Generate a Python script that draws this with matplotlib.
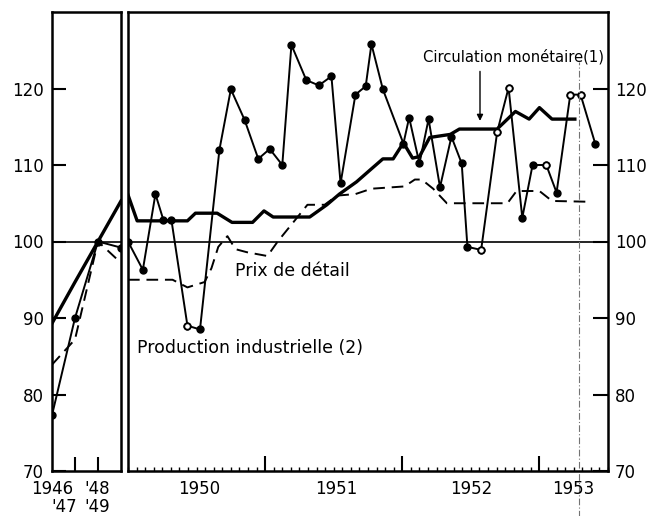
import numpy as np
import matplotlib.pyplot as plt
import matplotlib.ticker as ticker

# annual panel, 1946-1949 (1948 = 100)
years = [1946, 1947, 1948, 1949]
circ_years = [89.3, 94.7, 100.0, 105.3]
prix_years = [83.9, 87.2, 100.0, 97.2]
prod_years = [77.3, 90.0, 100.0, 99.2]

# monthly panel, x = months counted from january 1950
prod_m = [0.0, 1.3, 2.4, 3.1, 3.8, 5.2, 6.3, 8.0, 9.0, 10.2, 11.4, 12.4, 13.5, 14.3,
          15.6, 16.7, 17.8, 18.6, 19.9, 20.8, 21.3, 22.3, 24.1, 24.6, 25.5, 26.3,
          27.3, 28.3, 29.2, 29.7, 30.9, 32.3, 33.3, 34.5, 35.4, 36.6, 37.5, 38.7,
          39.6, 40.9]
prod_v = [100.0, 96.3, 106.2, 102.8, 102.8, 89.0, 88.5, 112.0, 119.9, 115.9, 110.8,
          112.1, 110.0, 125.7, 121.1, 120.4, 121.6, 107.6, 119.2, 120.3, 125.8, 119.9,
          112.8, 116.2, 110.2, 116.0, 107.1, 113.7, 110.2, 99.3, 98.9, 114.3, 120.1,
          103.1, 110.0, 110.0, 106.4, 119.2, 119.2, 112.7]
prod_open = [5, 30, 31, 32, 35, 37, 38]

circ_m = [0.0, 0.8, 5.2, 5.9, 7.8, 9.1, 10.9, 11.9, 12.7, 15.9, 17.4, 18.5, 20.0,
          21.3, 22.3, 23.2, 24.1, 24.9, 25.5, 26.4, 28.2, 29.0, 32.3, 33.9, 35.1,
          36.0, 37.1, 39.1]
circ_v = [106.1, 102.7, 102.7, 103.7, 103.7, 102.5, 102.5, 104.0, 103.2, 103.2, 104.8,
          106.2, 107.8, 109.5, 110.8, 110.8, 112.9, 110.9, 111.1, 113.6, 114.0, 114.7,
          114.7, 117.0, 116.0, 117.5, 116.0, 116.0]

prix_m = [0.0, 3.9, 5.2, 6.7, 7.3, 7.9, 8.7, 9.4, 10.4, 12.2, 13.1, 15.0, 15.7, 17.2,
          18.3, 19.9, 21.3, 24.2, 25.1, 25.7, 26.7, 27.9, 33.2, 34.0, 36.0, 37.1, 40.2]
prix_v = [95.0, 95.0, 94.0, 94.7, 96.5, 99.3, 100.7, 99.0, 98.6, 98.1, 100.0, 103.5,
          104.8, 104.8, 106.0, 106.2, 106.9, 107.2, 108.1, 108.1, 106.9, 105.0, 105.0,
          106.6, 106.6, 105.3, 105.2]

year_labels = ['1950', '1951', '1952', '1953']
year_label_m = [6.2, 18.2, 30.0, 39.0]

W, H = 650, 516
fig = plt.figure(figsize=(6.5, 5.16), dpi=100)
ax1 = fig.add_axes([52 / W, 1 - 471 / H, 69 / W, 459 / H])
ax2 = fig.add_axes([128 / W, 1 - 471 / H, 480 / W, 459 / H])

dash = (0, (6, 3.5))
for ax in (ax1, ax2):
    ax.set_ylim(70, 130)
    ax.axhline(100, color='k', lw=1.2)
    for s in ax.spines.values():
        s.set_linewidth(1.8)

# left panel
ax1.plot(years, circ_years, color='k', lw=2.4)
ax1.plot(years, prix_years, color='k', lw=1.4, ls=dash)
ax1.plot(years, prod_years, color='k', lw=1.4, marker='o', ms=5)
ax1.set_xlim(1946, 1949)
ax1.set_xticks([1947, 1948])
ax1.set_yticks(range(70, 121, 10))
ax1.tick_params(axis='x', direction='in', length=10, width=1.5, labelbottom=False)
ax1.tick_params(axis='y', direction='in', length=10, width=1.5, labelsize=12, pad=6)

# right panel
ax2.plot(circ_m, circ_v, color='k', lw=2.4)
ax2.plot(prix_m, prix_v, color='k', lw=1.4, ls=dash)
ax2.plot(prod_m, prod_v, color='k', lw=1.4, marker='o', ms=5)
ax2.plot([prod_m[i] for i in prod_open], [prod_v[i] for i in prod_open], 'o',
         ms=4.5, mfc='white', mec='k', mew=1.2)
ax2.set_xlim(0, 42)
ax2.xaxis.set_major_locator(ticker.FixedLocator([12, 24, 36]))
ax2.xaxis.set_minor_locator(ticker.MultipleLocator(0.75))
ax2.set_yticks(range(70, 121, 10))
ax2.yaxis.tick_right()
ax2.tick_params(axis='x', which='major', direction='in', length=11, width=1.5,
                labelbottom=False)
ax2.tick_params(axis='x', which='minor', direction='in', length=3, width=1)
ax2.tick_params(axis='y', direction='in', length=11, width=1.5, labelsize=12, pad=5)

for lab, m in zip(year_labels, year_label_m):
    ax2.text(m, 67.6, lab, ha='center', va='center', fontsize=12)

# annual labels on two rows
ax1.text(1946, 67.6, '1946', ha='center', va='center', fontsize=12)
ax1.text(1947.95, 67.6, "'48", ha='center', va='center', fontsize=12)
ax1.text(1946.55, 65.3, "'47", ha='center', va='center', fontsize=12)
ax1.text(1947.95, 65.3, "'49", ha='center', va='center', fontsize=12)

ax2.text(25.8, 124.1, 'Circulation monétaire(1)', ha='left', va='center', fontsize=10.6)
ax2.annotate('', xy=(30.8, 115.4), xytext=(30.8, 122.6),
             arrowprops=dict(arrowstyle='-|>', color='k', lw=1, mutation_scale=9))
ax2.text(9.4, 96.1, 'Prix de détail', ha='left', va='center', fontsize=12.5)
ax2.text(0.8, 86.1, 'Production industrielle (2)', ha='left', va='center', fontsize=12.5)

# fold mark of the scanned page
ax2.plot([39.5, 39.5], [64.0, 123.5], color='0.45', lw=0.8, ls=(0, (6, 2, 1, 2)),
         clip_on=False)

fig.savefig('out.png', dpi=100)
